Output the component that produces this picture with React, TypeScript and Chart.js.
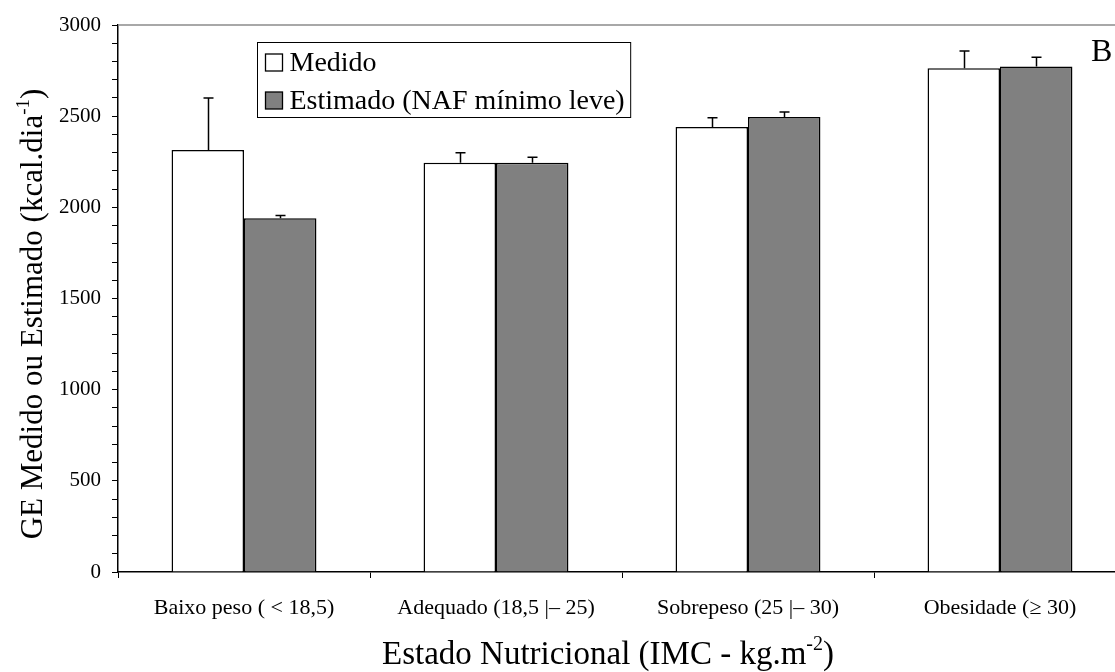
import React, { useEffect, useRef } from "react";
import { Chart, registerables } from "chart.js";

Chart.register(...registerables);

const categories = [
  "Baixo peso ( < 18,5)",
  "Adequado (18,5 |– 25)",
  "Sobrepeso (25 |– 30)",
  "Obesidade (≥ 30)",
];
const medido = [2315, 2245, 2440, 2763];
const medidoErr = [285, 55, 52, 94];
const estimado = [1940, 2245, 2495, 2772];
const estimadoErr = [15, 30, 28, 51];
const seriesLabels = ["Medido", "Estimado (NAF mínimo leve)"];
const yMin = 0;
const yMax = 3000;
const yMajorStep = 500;
const yMinorStep = 100;
const panelLabel = "B";
const yTitleParts = [
  { text: "GE Medido ou Estimado (kcal.dia" },
  { text: "-1", sup: true },
  { text: ")" },
];
const xTitleParts = [
  { text: "Estado Nutricional (IMC - kg.m" },
  { text: "-2", sup: true },
  { text: ")" },
];

const FONT = "'Liberation Serif', 'Times New Roman', serif";
const CANVAS_W = 1140;
const CANVAS_H = 672;

type Part = { text: string; sup?: boolean };

function drawRich(ctx: CanvasRenderingContext2D, parts: Part[], size: number) {
  const supSize = Math.round(size * 0.62);
  let total = 0;
  const widths = parts.map((p) => {
    ctx.font = `${p.sup ? supSize : size}px ${FONT}`;
    const w = ctx.measureText(p.text).width;
    total += w;
    return w;
  });
  let x = -total / 2;
  ctx.textBaseline = "alphabetic";
  ctx.textAlign = "left";
  parts.forEach((p, i) => {
    ctx.font = `${p.sup ? supSize : size}px ${FONT}`;
    ctx.fillText(p.text, x, p.sup ? size * 0.35 - size * 0.42 : size * 0.35);
    x += widths[i];
  });
}

const errData = [medidoErr, estimadoErr];

const customPlugin = {
  id: "customDraw",
  afterDatasetsDraw(chart: any) {
    const ctx = chart.ctx as CanvasRenderingContext2D;
    const yScale = chart.scales.y;
    ctx.save();
    ctx.strokeStyle = "#000";
    ctx.lineWidth = 1.5;
    chart.data.datasets.forEach((ds: any, di: number) => {
      const meta = chart.getDatasetMeta(di);
      meta.data.forEach((el: any, i: number) => {
        const v = ds.data[i];
        const e = errData[di][i];
        const x = Math.round(el.x) + 0.5;
        const y0 = yScale.getPixelForValue(v);
        const y1 = yScale.getPixelForValue(v + e);
        ctx.beginPath();
        ctx.moveTo(x, y0);
        ctx.lineTo(x, y1);
        ctx.moveTo(x - 5, y1);
        ctx.lineTo(x + 5, y1);
        ctx.stroke();
      });
    });
    ctx.restore();
  },
  afterDraw(chart: any) {
    const ctx = chart.ctx as CanvasRenderingContext2D;
    const area = chart.chartArea;
    ctx.save();
    ctx.strokeStyle = "#8c8c8c";
    ctx.lineWidth = 1.5;
    ctx.beginPath();
    ctx.moveTo(area.left, area.top);
    ctx.lineTo(area.right, area.top);
    ctx.lineTo(area.right, area.bottom);
    ctx.stroke();

    // legend
    const lx = 257.5;
    const ly = 42.5;
    const legFont = 28;
    const sq = 17;
    const textX = lx + 8 + sq + 7;
    ctx.font = `${legFont}px ${FONT}`;
    let maxW = 0;
    chart.data.datasets.forEach((ds: any) => {
      maxW = Math.max(maxW, ctx.measureText(ds.label).width);
    });
    const boxW = textX - lx + maxW + 6;
    const boxH = 75;
    ctx.fillStyle = "#fff";
    ctx.fillRect(lx, ly, boxW, boxH);
    ctx.strokeStyle = "#000";
    ctx.lineWidth = 1;
    ctx.strokeRect(lx, ly, boxW, boxH);
    chart.data.datasets.forEach((ds: any, i: number) => {
      const cy = ly + 20 + i * 38;
      ctx.fillStyle = ds.backgroundColor;
      ctx.fillRect(lx + 8, cy - sq / 2, sq, sq);
      ctx.strokeStyle = "#000";
      ctx.lineWidth = 1.3;
      ctx.strokeRect(lx + 8, cy - sq / 2, sq, sq);
      ctx.fillStyle = "#000";
      ctx.textAlign = "left";
      ctx.textBaseline = "middle";
      ctx.font = `${legFont}px ${FONT}`;
      ctx.fillText(ds.label, textX, cy + 1);
    });

    // panel label
    ctx.fillStyle = "#000";
    ctx.font = `32px ${FONT}`;
    ctx.textAlign = "left";
    ctx.textBaseline = "middle";
    ctx.fillText(panelLabel, 1091, 53);

    // y title
    ctx.save();
    ctx.translate(31, 314);
    ctx.rotate(-Math.PI / 2);
    ctx.fillStyle = "#000";
    drawRich(ctx, yTitleParts, 31);
    ctx.restore();

    // x title
    ctx.save();
    ctx.translate(608, 652);
    ctx.fillStyle = "#000";
    drawRich(ctx, xTitleParts, 33);
    ctx.restore();

    ctx.restore();
  },
};

export default function App() {
  const ref = useRef<HTMLCanvasElement | null>(null);
  useEffect(() => {
    if (!ref.current) return;
    const chart = new Chart(ref.current, {
      type: "bar",
      data: {
        labels: categories,
        datasets: [
          {
            label: seriesLabels[0],
            data: medido,
            backgroundColor: "#ffffff",
            borderColor: "#000000",
            borderWidth: 1.5,
            categoryPercentage: 0.575,
            barPercentage: 1,
          },
          {
            label: seriesLabels[1],
            data: estimado,
            backgroundColor: "#808080",
            borderColor: "#000000",
            borderWidth: 1.5,
            categoryPercentage: 0.575,
            barPercentage: 1,
          },
        ],
      },
      options: {
        responsive: false,
        animation: false,
        devicePixelRatio: 1,
        layout: { padding: { top: 25, right: CANVAS_W - 1126, left: 0, bottom: 0 } },
        plugins: {
          legend: { display: false },
          tooltip: { enabled: false },
          title: { display: false },
        },
        scales: {
          x: {
            type: "category",
            offset: true,
            grid: {
              offset: true,
              drawOnChartArea: false,
              drawTicks: true,
              tickLength: 6,
              color: "#000",
              lineWidth: 1,
            },
            border: { display: true, color: "#000", width: 1.5 },
            ticks: {
              color: "#000",
              font: { family: FONT, size: 22 },
              padding: 17,
              maxRotation: 0,
              autoSkip: false,
            },
            afterFit(scale: any) {
              scale.height = 100;
            },
          },
          y: {
            min: yMin,
            max: yMax,
            grid: {
              drawOnChartArea: false,
              drawTicks: true,
              tickLength: 6,
              color: "#000",
              lineWidth: 1,
            },
            border: { display: true, color: "#000", width: 1.5 },
            ticks: {
              stepSize: yMinorStep,
              autoSkip: false,
              color: "#000",
              font: { family: FONT, size: 21 },
              padding: 11,
              callback: (v: any) => (Number(v) % yMajorStep === 0 ? String(v) : ""),
            },
            afterFit(scale: any) {
              scale.width = 118;
            },
          },
        },
      },
      plugins: [customPlugin],
    });
    return () => chart.destroy();
  }, []);
  return (
    <div
      style={{
        position: "absolute",
        left: 0,
        top: 0,
        width: 1115,
        height: 672,
        overflow: "hidden",
        background: "#fff",
      }}
    >
      <canvas
        ref={ref}
        width={CANVAS_W}
        height={CANVAS_H}
        style={{ display: "block", width: CANVAS_W, height: CANVAS_H }}
      />
    </div>
  );
}
